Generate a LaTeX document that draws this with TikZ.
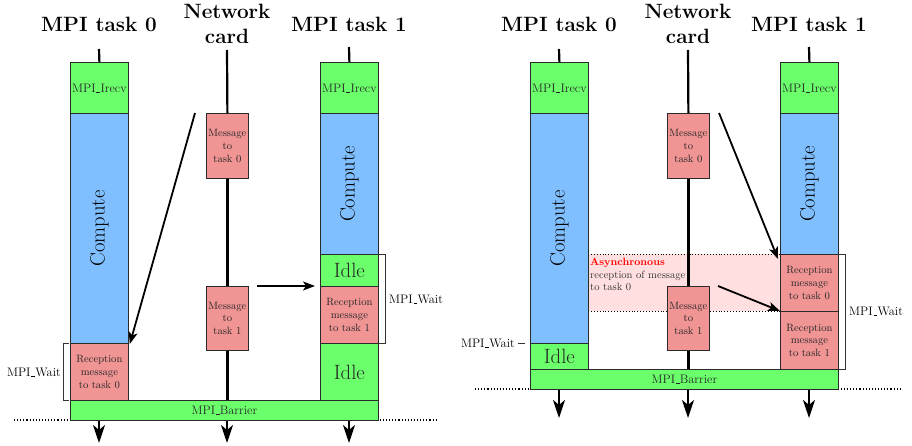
\documentclass[tikz,border=0pt]{standalone}
\usetikzlibrary{arrows.meta}

\definecolor{cgreen}{HTML}{6BFF6B}
\definecolor{cblue}{HTML}{80BFFF}
\definecolor{cred}{HTML}{F09494}
\definecolor{cband}{HTML}{FFDFE0}
\definecolor{cedge}{HTML}{2A2A2A}

% low rule for the underscore in MPI routine names
\newcommand{\us}{\leavevmode\kern.06em\vbox{\hrule width.3em height .4pt}\kern.03em}

\tikzset{
  blk/.style={draw=cedge, line width=0.8pt, inner sep=0pt, anchor=north west,
              minimum width=58pt, text=black!85},
  gbox/.style={blk, fill=cgreen},
  bbox/.style={blk, fill=cblue},
  rbox/.style={blk, fill=cred},
  msgbox/.style={blk, fill=cred, minimum width=42pt},
  bigtxt/.style={font=\fontsize{20.7}{25}\selectfont},
  midtxt/.style={font=\fontsize{12.3}{15}\selectfont},
  smltxt/.style={font=\fontsize{10.6}{12.7}\selectfont, align=center},
  title/.style={font=\fontsize{20.7}{25}\selectfont\bfseries, align=center},
  wire/.style={line width=2.2pt},
  sendarrow/.style={line width=1.8pt, -{Stealth[length=12pt,width=9pt,inset=3pt]}},
  downarrow/.style={line width=2.2pt, -{Stealth[length=18pt,width=12pt,inset=5pt]}},
  bracket/.style={line width=0.7pt, draw=black!80},
  sep/.style={dotted, line width=1.1pt},
}

\begin{document}
\begin{tikzpicture}[x=1pt, y=-1pt]
\useasboundingbox (0,0) rectangle (912,446);

% ================= blocking receive (left) =================
\begin{scope}
  \draw[sep] (14,420) -- (438,420);

  \node[title] (lt0) at (99,24) {MPI task 0};
  \node[title] (lnc) at (227,24) {Network\\card};
  \node[title] (lt1) at (349,24) {MPI task 1};

  % task 0
  \node[gbox, minimum height=51pt, midtxt] (lirecv0) at (70,62) {MPI\us Irecv};
  \node[bbox, minimum height=230pt] (lcomp0) at (70,113) {};
  \node[rotate=90, bigtxt] (lcomp0t) at (lcomp0.center) {Compute};
  \node[rbox, minimum height=57pt, smltxt] (lrecv0) at (70,343) {Reception\\message\\to task 0};

  % task 1
  \node[gbox, minimum height=51pt, midtxt] (lirecv1) at (320,62) {MPI\us Irecv};
  \node[bbox, minimum height=141pt] (lcomp1) at (320,113) {};
  \node[rotate=90, bigtxt] (lcomp1t) at (lcomp1.center) {Compute};
  \node[gbox, minimum height=32pt, bigtxt] (lidle1a) at (320,254) {Idle};
  \node[rbox, minimum height=57pt, smltxt] (lrecv1) at (320,286) {Reception\\message\\to task 1};
  \node[gbox, minimum height=57pt, bigtxt] (lidle1b) at (320,343) {Idle};

  % barrier
  \node[gbox, minimum width=308pt, minimum height=20pt, midtxt] (lbar) at (70,400) {MPI\us Barrier};

  % network card
  \node[msgbox, minimum height=65pt, smltxt] (lmsg0) at (206,113) {Message\\to\\task 0};
  \node[msgbox, minimum height=64pt, smltxt] (lmsg1) at (206,286) {Message\\to\\task 1};

  \coordinate (ltop0) at (99,49);
  \coordinate (ltopn) at (227,50);
  \coordinate (ltop1) at (349,47);
  \draw[wire] (ltop0) -- (lirecv0.north);
  \draw[wire] (ltop1) -- (lirecv1.north);
  \draw[wire] (ltopn) -- (lmsg0.north);
  \draw[wire] (lmsg0.south) -- (lmsg1.north);
  \draw[wire] (lmsg1.south) -- (lmsg1.south |- lbar.north);

  % messages delivered
  \coordinate (las) at (195,113);
  \draw[sendarrow] (las) -- ([shift={(1,1)}]lrecv0.north east);
  \coordinate (lbs) at (257,286);
  \coordinate (lbe) at (315,286);
  \draw[sendarrow] (lbs) -- (lbe);

  % time goes on
  \coordinate (ld0) at (99,443);
  \coordinate (ldn) at (227,443);
  \coordinate (ld1) at (349,443);
  \draw[downarrow] (ld0 |- lbar.south) -- (ld0);
  \draw[downarrow] (ldn |- lbar.south) -- (ldn);
  \draw[downarrow] (ld1 |- lbar.south) -- (ld1);

  % wait brackets
  \draw[bracket] (69,343) -- (63,343) -- (63,400) -- (69,400);
  \node[midtxt, anchor=east, inner sep=1pt] (lw0) at (62,372) {MPI\us Wait};
  \draw[bracket] (379,254) -- (385,254) -- (385,343) -- (379,343);
  \node[midtxt, anchor=west, inner sep=1pt] (lw1) at (388,299) {MPI\us Wait};
\end{scope}

% ================= asynchronous progress (right) =================
\begin{scope}[xshift=460pt]
  \draw[sep] (15,389) -- (440,389);

  % band of asynchronous reception
  \fill[cband] (128,254) rectangle (320,311);
  \draw[sep, line width=0.9pt] (128,254) -- (320,254);
  \draw[sep, line width=0.9pt] (128,311) -- (320,311);
  \node[anchor=north west, inner sep=0pt, align=left,
        font=\fontsize{10.6}{12.7}\selectfont, text=black!80] (rasync) at (130,258)
        {\textcolor{red}{\bfseries Asynchronous}\\reception of message\\to task 0};

  \node[title] (rt0) at (99,24) {MPI task 0};
  \node[title] (rnc) at (228,24) {Network\\card};
  \node[title] (rt1) at (349,24) {MPI task 1};

  % task 0
  \node[gbox, minimum height=51pt, midtxt] (rirecv0) at (70,62) {MPI\us Irecv};
  \node[bbox, minimum height=230pt] (rcomp0) at (70,113) {};
  \node[rotate=90, bigtxt] (rcomp0t) at (rcomp0.center) {Compute};
  \node[gbox, minimum height=26pt, bigtxt] (ridle0) at (70,343) {Idle};

  % task 1
  \node[gbox, minimum height=51pt, midtxt] (rirecv1) at (320,62) {MPI\us Irecv};
  \node[bbox, minimum height=141pt] (rcomp1) at (320,113) {};
  \node[rotate=90, bigtxt] (rcomp1t) at (rcomp1.center) {Compute};
  \node[rbox, minimum height=57pt, smltxt] (rrecvA) at (320,254) {Reception\\message\\to task 0};
  \node[rbox, minimum height=58pt, smltxt] (rrecvB) at (320,311) {Reception\\message\\to task 1};

  % barrier
  \node[gbox, minimum width=308pt, minimum height=20pt, midtxt] (rbar) at (70,369) {MPI\us Barrier};

  % network card
  \coordinate (rtopn) at (228,50);
  \coordinate (rtop0) at (99,49);
  \coordinate (rtop1) at (349,47);
  \node[msgbox, minimum height=65pt, smltxt] (rmsg0) at (207,113) {Message\\to\\task 0};
  \draw[wire] (rmsg0.south) -- (rmsg0.south |- rbar.north);
  \node[msgbox, minimum height=64pt, smltxt] (rmsg1) at (207,286) {Message\\to\\task 1};
  \draw[wire] (rtop0) -- (rirecv0.north);
  \draw[wire] (rtop1) -- (rirecv1.north);
  \draw[wire] (rtopn) -- (rmsg0.north);

  % messages delivered
  \coordinate (ras) at (259,113);
  \coordinate (rae) at (318,259);
  \draw[sendarrow] (ras) -- (rae);
  \coordinate (rbs) at (258,286);
  \draw[sendarrow] (rbs) -- (rrecvB.north west);

  % time goes on
  \coordinate (rd0) at (99,418);
  \coordinate (rdn) at (228,418);
  \coordinate (rd1) at (349,418);
  \draw[downarrow] (rd0 |- rbar.south) -- (rd0);
  \draw[downarrow] (rdn |- rbar.south) -- (rdn);
  \draw[downarrow] (rd1 |- rbar.south) -- (rd1);

  % wait markers
  \draw[bracket] (58,343) -- (65,343);
  \node[midtxt, anchor=east, inner sep=1pt] (rw0) at (56,343) {MPI\us Wait};
  \draw[bracket] (379,254) -- (385,254) -- (385,369) -- (379,369);
  \node[midtxt, anchor=west, inner sep=1pt] (rw1) at (388,311) {MPI\us Wait};
\end{scope}
\end{tikzpicture}
\end{document}
